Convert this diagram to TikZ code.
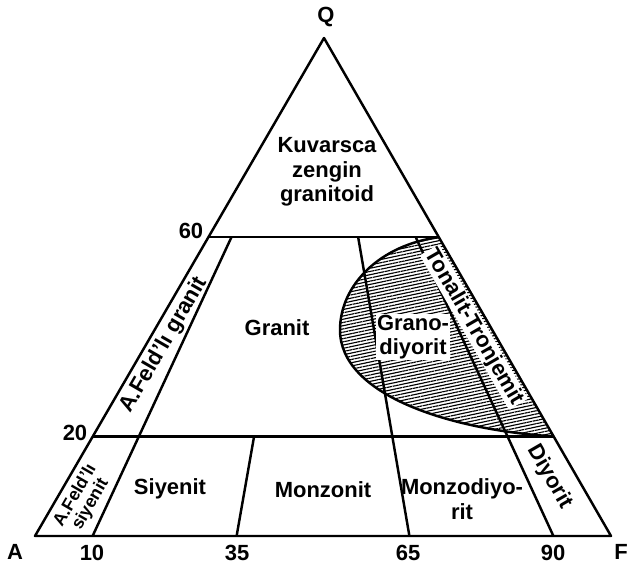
\documentclass[tikz,border=0pt]{standalone}
\usepackage{fontspec}
\setmainfont{Liberation Sans}
\usetikzlibrary{calc, patterns.meta}

\begin{document}
\begin{tikzpicture}[x=0.02cm, y=-0.02cm,
    edge/.style={line width=1.4pt, line join=round},
    field/.style={font=\fontsize{12.5}{14}\selectfont\bfseries, align=center, inner sep=1pt},
    band/.style={font=\fontsize{10}{10}\selectfont\bfseries, align=center, inner sep=0.5pt},
    tick/.style={font=\fontsize{12.5}{14}\selectfont\bfseries, inner sep=1pt},
    hatch/.style={pattern={Lines[angle=12, distance=1.8pt, line width=0.65pt]}},
]
    \useasboundingbox (0,0) rectangle (628,570);
    % corners of the triangle
    \coordinate (A) at (35,536);
    \coordinate (F) at (611,536);
    \coordinate (Q) at (324,38);
    % Q levels on both sides
    \coordinate (L60) at ($(A)!0.6!(Q)$);
    \coordinate (R60) at ($(F)!0.6!(Q)$);
    \coordinate (L20) at ($(A)!0.2!(Q)$);
    \coordinate (R20) at ($(F)!0.2!(Q)$);
    % ratios on the base
    \foreach \f/\p in {0.10/10, 0.35/35, 0.65/65, 0.90/90} {
        \coordinate (B\p) at ($(A)!\f!(F)$);
    }

    % granodiorite field
    \fill[hatch] (R60) .. controls (380,245) and (340,285) .. (340,330)
        .. controls (340,395) and (450,430) .. (R20) -- cycle;
    \draw[edge] (R60) .. controls (380,245) and (340,285) .. (340,330)
        .. controls (340,395) and (450,430) .. (R20);

    \draw[edge] (A) -- (F) -- (Q) -- cycle;
    \draw[edge] (L60) -- (R60);
    \draw[edge] (L20) -- (R20);
    \draw[edge] (B10) -- ($(B10)!0.6!(Q)$);
    \draw[edge] (B35) -- ($(B35)!0.2!(Q)$);
    \draw[edge] (B65) -- ($(B65)!0.6!(Q)$);
    \draw[edge] (B90) -- ($(B90)!0.6!(Q)$);

    % corner and scale labels
    \node[tick] (lq) at (326,17) {Q};
    \node[tick] (la) at (15,552) {A};
    \node[tick] (lf) at (621,552) {F};
    \node[tick] (t10) at (92,553) {10};
    \node[tick] (t35) at (237,553) {35};
    \node[tick] (t65) at (408,553) {65};
    \node[tick] (t90) at (553,553) {90};
    \node[tick] (t60) at (191,231) {60};
    \node[tick] (t20) at (75,433) {20};

    % field names
    \node[field] (kzg) at (327,172) {Kuvarsca\\zengin\\granitoid};
    \node[field] (gra) at (277,328) {Granit};
    \node[field, fill=white, inner sep=0.5pt] (grd) at (413,337) {Grano-\\diyorit};
    \node[field, fill=white, inner sep=0.5pt, rotate=-60] (ton) at (474,327) {Tonalit-Tronjemit};
    \node[field, rotate=60] (afg) at (164,345) {A.Feld'lı granit};
    \node[band, rotate=60] (afs) at (83,500) {A.Feld'lı\\siyenit};
    \node[field] (siy) at (170,489) {Siyenit};
    \node[field] (mzn) at (323,490) {Monzonit};
    \node[field] (mzd) at (462,499) {Monzodiyo-\\rit};
    \node[field, rotate=-60] (diy) at (550,477) {Diyorit};
\end{tikzpicture}
\end{document}
